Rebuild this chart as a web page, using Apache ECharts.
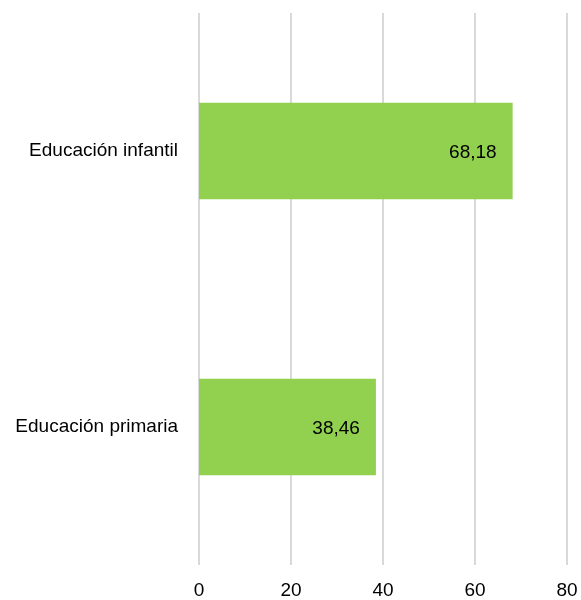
<!DOCTYPE html>
<html>
<head>
<meta charset="utf-8">
<script src="https://cdn.jsdelivr.net/npm/echarts@6/dist/echarts.min.js"></script>
<style>html,body{margin:0;padding:0;background:#fff}#c{width:581px;height:600px}</style>
</head>
<body>
<div id="c"></div>
<script>
const categories = ["Educación infantil", "Educación primaria"];
const values = [68.18, 38.46];
const xTicks = [0, 20, 40, 60, 80];

const chart = echarts.init(document.getElementById('c'), null, {renderer: 'canvas'});
const font = "'Liberation Sans', 'DejaVu Sans', sans-serif";
chart.setOption({
  animation: false,
  grid: {left: 199, right: 14, top: 13, bottom: 35, containLabel: false},
  xAxis: {
    type: 'value', min: xTicks[0], max: xTicks[xTicks.length - 1], interval: 20,
    axisLine: {show: false}, axisTick: {show: false},
    splitLine: {show: true, lineStyle: {color: '#d9d9d9', width: 2}},
    axisLabel: {color: '#000', fontSize: 19, fontFamily: font, margin: 16}
  },
  yAxis: {
    type: 'category', data: categories, inverse: true,
    axisLine: {show: false}, axisTick: {show: false},
    axisLabel: {color: '#000', fontSize: 19, fontFamily: font, margin: 21,
      padding: [3, 0, 0, 0]}
  },
  series: [{
    type: 'bar', data: values, barWidth: '35%',
    itemStyle: {color: '#92D050'},
    label: {
      show: true, position: 'insideRight', distance: 16, offset: [0, 2],
      color: '#000', fontSize: 19, fontFamily: font,
      formatter: p => p.value.toFixed(2).replace('.', ',')
    }
  }]
});
</script>
</body>
</html>
